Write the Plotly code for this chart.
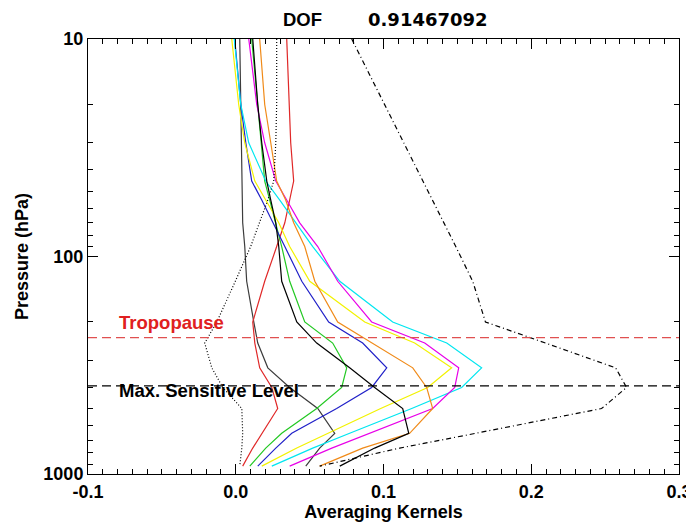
import plotly.graph_objects as go

# pressure levels (hPa) shared by all kernels
pressure = [10, 20, 30, 45, 55, 70, 90, 130, 200, 250, 325, 400, 500, 650, 760, 920]

# averaging kernel rows
ak_gray = [0.0027, 0.0034, 0.0041, 0.0041, 0.0047, 0.0047, 0.0061, 0.0074, 0.0122, 0.0149, 0.0217, 0.0365, 0.0555, 0.0670, 0.0568, 0.0474]
ak_red = [0.0345, 0.0359, 0.0372, 0.0392, 0.0365, 0.0332, 0.0277, 0.0196, 0.0115, 0.0129, 0.0162, 0.0244, 0.0284, 0.0176, 0.0115, 0.0047]
ak_green = [0.0108, 0.0149, 0.0169, 0.0196, 0.0230, 0.0271, 0.0311, 0.0365, 0.0467, 0.0656, 0.0751, 0.0717, 0.0548, 0.0311, 0.0203, 0.0095]
ak_blue = [-0.0007, 0.0034, 0.0068, 0.0108, 0.0176, 0.0250, 0.0332, 0.0447, 0.0629, 0.0859, 0.1022, 0.0920, 0.0683, 0.0379, 0.0271, 0.0149]
ak_yellow = [-0.0027, 0.0020, 0.0061, 0.0129, 0.0203, 0.0291, 0.0365, 0.0501, 0.0873, 0.1211, 0.1461, 0.1299, 0.0981, 0.0629, 0.0413, 0.0176]
ak_cyan = [-0.0010, 0.0034, 0.0088, 0.0203, 0.0298, 0.0406, 0.0521, 0.0704, 0.1062, 0.1428, 0.1664, 0.1529, 0.1191, 0.0771, 0.0521, 0.0244]
ak_magenta = [0.0088, 0.0142, 0.0196, 0.0271, 0.0345, 0.0433, 0.0555, 0.0690, 0.0920, 0.1279, 0.1509, 0.1482, 0.1333, 0.0907, 0.0650, 0.0365]
ak_orange = [0.0162, 0.0196, 0.0237, 0.0277, 0.0338, 0.0392, 0.0467, 0.0535, 0.0690, 0.0920, 0.1198, 0.1292, 0.1333, 0.1177, 0.0859, 0.0568]
ak_black = [0.0115, 0.0149, 0.0176, 0.0210, 0.0237, 0.0271, 0.0291, 0.0311, 0.0413, 0.0548, 0.0771, 0.0940, 0.1130, 0.1171, 0.0940, 0.0704]
ak_dotted = [0.0277, 0.0277, 0.0271, 0.0257, 0.0217, 0.0162, 0.0101, -0.0003, -0.0128, -0.0210, -0.0162, -0.0088, 0.0041, 0.0047, 0.0041, 0.0027]
ak_sum = [0.0785, 0.1008, 0.1137, 0.1265, 0.1333, 0.1407, 0.1489, 0.1604, 0.1690, 0.2097, 0.2571, 0.2645, 0.2476, 0.1624, 0.1110, 0.0568]

tropopause = 236    # hPa
max_sens = 393      # hPa
dof = "0.91467092"

FONT = "Liberation Sans"

fig = go.Figure()

curves = [
    (ak_gray, "#3c3c3c", "solid"),
    (ak_red, "#e02828", "solid"),
    (ak_green, "#22c822", "solid"),
    (ak_blue, "#2020c8", "solid"),
    (ak_yellow, "#f2f200", "solid"),
    (ak_cyan, "#00e6f0", "solid"),
    (ak_magenta, "#e800e8", "solid"),
    (ak_orange, "#f08a18", "solid"),
    (ak_black, "#000000", "solid"),
    (ak_dotted, "#000000", "1px,2px"),
    (ak_sum, "#000000", "5px,3px,1px,3px"),
]
for vals, col, dash in curves:
    fig.add_trace(go.Scatter(x=vals, y=pressure, mode="lines",
                             line=dict(color=col, width=1.2, dash=dash),
                             showlegend=False, hoverinfo="skip"))

# horizontal reference levels
fig.add_shape(type="line", xref="paper", x0=0, x1=1, yref="y", y0=tropopause, y1=tropopause,
              line=dict(color="#e05050", width=1.3, dash="9px,5px"))
fig.add_shape(type="line", xref="paper", x0=0, x1=1, yref="y", y0=max_sens, y1=max_sens,
              line=dict(color="#000000", width=1.3, dash="9px,5px"))

fig.add_annotation(x=-0.0805, y=2.304, text="Tropopause", showarrow=False,
                   xanchor="left", yanchor="middle",
                   font=dict(family=FONT, size=18.5, color="#e02020", weight="bold"))
fig.add_annotation(x=-0.0805, y=2.6175, text="Max. Sensitive Level", showarrow=False,
                   xanchor="left", yanchor="middle",
                   font=dict(family=FONT, size=18.5, color="#000000", weight="bold"))

# title: label and value
fig.add_annotation(xref="paper", yref="paper", x=0.3265, y=1.0, yshift=20,
                   text="DOF", showarrow=False, xanchor="left", yanchor="middle",
                   font=dict(family=FONT, size=18.5, color="black", weight="bold"))
fig.add_annotation(xref="paper", yref="paper", x=0.4704, y=1.0, yshift=20,
                   text=dof, showarrow=False, xanchor="left", yanchor="middle",
                   font=dict(family="DejaVu Sans", size=18, color="black", weight="bold"))

axis_font = dict(family=FONT, size=18, color="black", weight="bold")

# the page body adds an 8px offset, so the figure is drawn 8px smaller
fig.update_layout(
    width=686, height=514,
    margin=dict(l=80, r=15, t=31, b=48),
    paper_bgcolor="white", plot_bgcolor="white",
    font=dict(family=FONT, color="black"),
    xaxis=dict(
        range=[-0.1, 0.3], automargin=False,
        tickvals=[-0.1, 0.0, 0.1, 0.2, 0.3],
        ticktext=["-0.1", "0.0", "0.1", "0.2", "0.3"],
        ticks="inside", ticklen=10, tickwidth=1, tickcolor="black",
        minor=dict(dtick=0.01, tick0=0, ticks="inside", ticklen=5, tickcolor="black"),
        showline=True, linecolor="black", linewidth=1, mirror="allticks",
        showgrid=False, zeroline=False,
        tickfont=axis_font, ticklabelstandoff=1,
        title=dict(text="Averaging Kernels", font=axis_font, standoff=0),
    ),
    yaxis=dict(
        type="log", range=[3, 1], automargin=False,
        tickvals=[10, 100, 1000], ticktext=["10", "100", "1000"],
        ticks="inside", ticklen=10, tickwidth=1, tickcolor="black",
        minor=dict(tickmode="array",
                   tickvals=[20, 30, 40, 50, 60, 70, 80, 90, 200, 300, 400, 500, 600, 700, 800, 900],
                   ticks="inside", ticklen=5, tickcolor="black"),
        showline=True, linecolor="black", linewidth=1, mirror="allticks",
        showgrid=False, zeroline=False,
        tickfont=axis_font, ticklabelstandoff=0,
        title=dict(text="Pressure (hPa)", font=axis_font, standoff=10),
    ),
)

fig.write_html("out.html")
